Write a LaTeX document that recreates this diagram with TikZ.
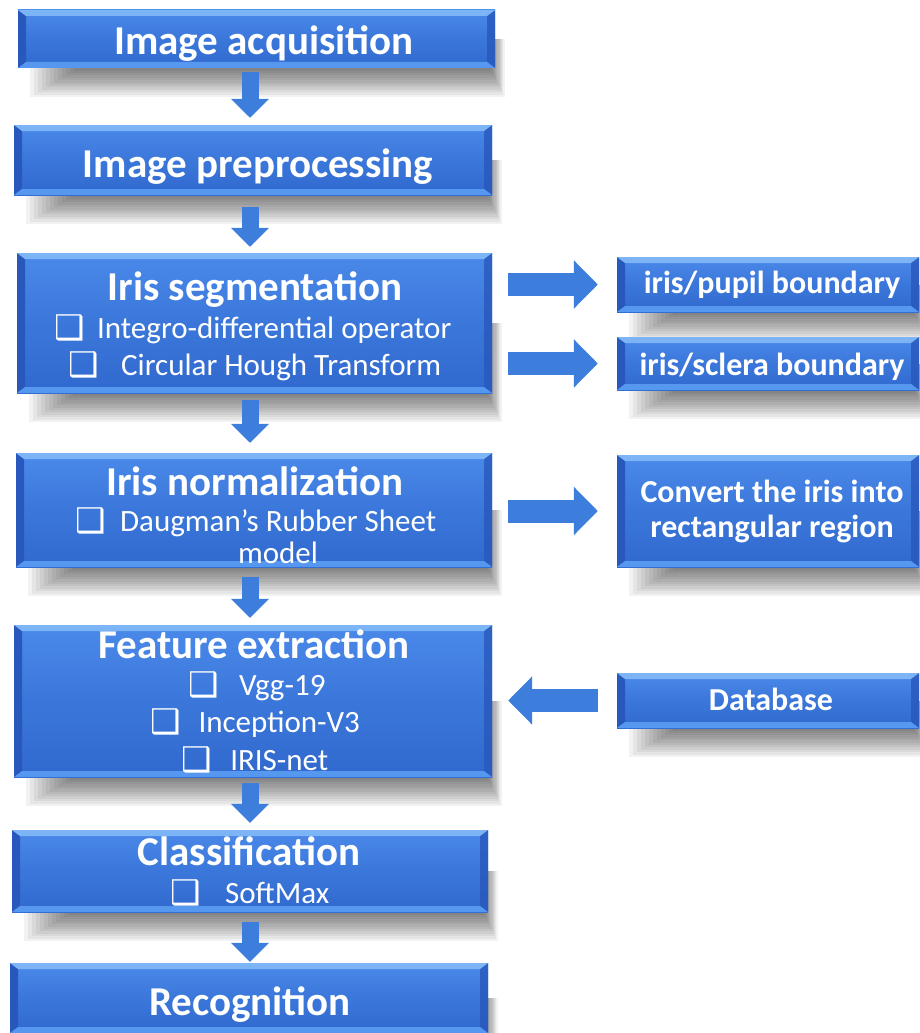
\documentclass[tikz,border=0pt]{standalone}
\usepackage{fontspec}
\setmainfont{Carlito}
\newfontfamily\dejavu{DejaVu Sans}
\usetikzlibrary{arrows.meta,calc,backgrounds}
\definecolor{bxtop}{HTML}{4A89EA}
\definecolor{bxmid}{HTML}{3B77DA}
\definecolor{bxbot}{HTML}{3169CE}
\definecolor{bvtop}{HTML}{86BDF9}
\definecolor{bvbot}{HTML}{5A9DF4}
\definecolor{bvside}{HTML}{2858BC}
\definecolor{arrowblue}{HTML}{3D7EDD}
\newcommand\bxsym{{\dejavu\fontsize{34}{34}\selectfont\raisebox{-1pt}{❑}}}
\newcommand\boxshadow[1]{%
  \foreach \i in {1,...,12}{%
    \fill[black,opacity=0.05] ([xshift={60pt-4pt*\i}]#1.west) rectangle ([xshift={1.2pt*\i-5pt}, yshift={-2.4pt*\i}]#1.south east);
  }}
\tikzset{
  bevelbox/.style={rectangle, inner sep=0pt, draw=none,
    top color=bxtop, bottom color=bxbot, middle color=bxmid,
    path picture={
      \fill[bvside] (path picture bounding box.north west) -- (path picture bounding box.south west)
        -- ([xshift=8pt,yshift=6pt]path picture bounding box.south west) -- ([xshift=8pt,yshift=-6pt]path picture bounding box.north west) -- cycle;
      \fill[bvside,opacity=0.8] (path picture bounding box.north east) -- (path picture bounding box.south east)
        -- ([xshift=-8pt,yshift=6pt]path picture bounding box.south east) -- ([xshift=-8pt,yshift=-6pt]path picture bounding box.north east) -- cycle;
      \fill[bvtop,opacity=0.85] (path picture bounding box.north west) -- (path picture bounding box.north east)
        -- ([xshift=-8pt,yshift=-6pt]path picture bounding box.north east) -- ([xshift=8pt,yshift=-6pt]path picture bounding box.north west) -- cycle;
      \fill[bvbot,opacity=0.9] (path picture bounding box.south west) -- (path picture bounding box.south east)
        -- ([xshift=-8pt,yshift=6pt]path picture bounding box.south east) -- ([xshift=8pt,yshift=6pt]path picture bounding box.south west) -- cycle;
    }},
  ttl/.style={text=white, font=\fontsize{41}{41}\selectfont\bfseries, inner sep=0pt, anchor=base},
  itm/.style={text=white, font=\fontsize{31}{31}\selectfont, inner sep=0pt, anchor=base},
  rtl/.style={text=white, font=\fontsize{32}{32}\selectfont\bfseries, inner sep=0pt, anchor=base},
  darrow/.style={draw=arrowblue, line width=17pt, -{Triangle[width=37pt,length=19pt]}},
  harrow/.style={draw=arrowblue, line width=23pt, -{Triangle[width=47pt,length=24pt]}}
}
\begin{document}
\begin{tikzpicture}[x=1pt,y=-1pt]
\useasboundingbox (0,0) rectangle (919,1033);
% boxes
\node[bevelbox, minimum width=477pt, minimum height=58pt] (acq) at (256.5,39) {};
\node[bevelbox, minimum width=478pt, minimum height=70pt] (pre) at (253,160) {};
\node[bevelbox, minimum width=475pt, minimum height=140pt] (seg) at (254.5,323) {};
\node[bevelbox, minimum width=476pt, minimum height=114pt] (norm) at (254,510) {};
\node[bevelbox, minimum width=478pt, minimum height=152pt] (feat) at (253,701) {};
\node[bevelbox, minimum width=476pt, minimum height=82pt] (cls) at (250,871) {};
\node[bevelbox, minimum width=478pt, minimum height=70pt] (rec) at (249,998) {};
\node[bevelbox, minimum width=302pt, minimum height=55pt] (pupil) at (768,284.5) {};
\node[bevelbox, minimum width=302pt, minimum height=53pt] (sclera) at (768,363.5) {};
\node[bevelbox, minimum width=302pt, minimum height=112pt] (conv) at (768,511) {};
\node[bevelbox, minimum width=302pt, minimum height=55pt] (db) at (768,700.5) {};
% background and shadows
\begin{pgfonlayer}{background}
\fill[white] (0,0) rectangle (919,1033);
\boxshadow{acq}\boxshadow{pre}\boxshadow{seg}\boxshadow{norm}\boxshadow{feat}\boxshadow{cls}\boxshadow{rec}
\boxshadow{pupil}\boxshadow{sclera}\boxshadow{conv}\boxshadow{db}
\end{pgfonlayer}
% texts
\node[ttl] (acqT) at (264,55) {Image acquisition};
\node[ttl] (preT) at (258,177) {Image preprocessing};
\node[ttl] (segT) at (255,300) {Iris segmentation};
\node[itm] (seg1) at (253,338) {\bxsym\hspace{12pt}Integro-differential operator};
\node[itm] (seg2) at (255,375) {\bxsym\hspace{22pt}Circular Hough Transform};
\node[ttl] (normT) at (255,495) {Iris normalization};
\node[itm] (norm1) at (256,531) {\bxsym\hspace{14pt}Daugman’s Rubber Sheet};
\node[itm] (norm2) at (278,563) {model};
\node[ttl] (featT) at (254,658) {Feature extraction};
\node[itm] (feat1) at (257,695) {\bxsym\hspace{20pt}Vgg-19};
\node[itm] (feat2) at (255,732) {\bxsym\hspace{18pt}Inception-V3};
\node[itm] (feat3) at (255,770) {\bxsym\hspace{18pt}IRIS-net};
\node[ttl] (clsT) at (249,865) {Classification};
\node[itm] (cls1) at (250,903) {\bxsym\hspace{24pt}SoftMax};
\node[ttl] (recT) at (250,1015) {Recognition};
\node[rtl] (pupilT) at (772,293) {iris/pupil boundary};
\node[rtl] (scleraT) at (772,375) {iris/sclera boundary};
\node[rtl] (conv1) at (772,502) {Convert the iris into};
\node[rtl] (conv2) at (772,537) {rectangular region};
\node[rtl] (dbT) at (771,710) {Database};
% arrows
\coordinate (ax) at (250,0);
\draw[darrow, shorten <=4pt, shorten >=7pt] (acq.south -| ax) -- (pre.north -| ax);
\draw[darrow, shorten <=12pt, shorten >=6pt] (pre.south -| ax) -- (seg.north -| ax);
\draw[darrow, shorten <=7pt, shorten >=10pt] (seg.south -| ax) -- (norm.north -| ax);
\draw[darrow, shorten <=10pt, shorten >=7pt] (norm.south -| ax) -- (feat.north -| ax);
\draw[darrow, shorten <=6pt, shorten >=7pt] (feat.south -| ax) -- (cls.north -| ax);
\draw[darrow, shorten <=10pt, shorten >=1pt] (cls.south -| ax) -- (rec.north -| ax);
\draw[harrow, shorten <=16pt, shorten >=19pt] (seg.east |- pupil.west) -- (pupil.west);
\draw[harrow, shorten <=16pt, shorten >=19pt] (seg.east |- sclera.west) -- (sclera.west);
\draw[harrow, shorten <=16pt, shorten >=19pt] (norm.east |- conv.west) -- (conv.west);
\draw[harrow, shorten <=19pt, shorten >=16pt] (db.west) -- (feat.east |- db.west);
\end{tikzpicture}
\end{document}
